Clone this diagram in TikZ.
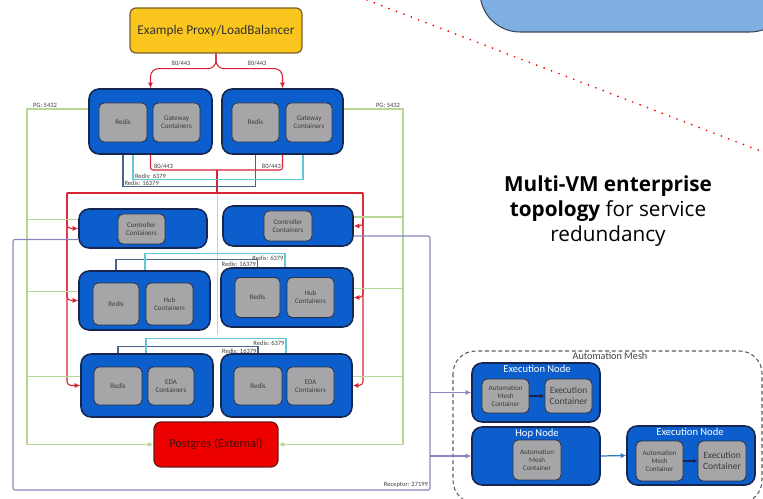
\documentclass[tikz,border=0pt]{standalone}
\usepackage{fontspec}
\setmainfont{Carlito}
\newfontfamily\capfont{Open Sans}
\usetikzlibrary{arrows.meta,calc,positioning}

\definecolor{vmblue}{RGB}{12,94,204}
\definecolor{vmedge}{RGB}{22,38,80}
\definecolor{ctrgray}{RGB}{166,166,168}
\definecolor{ctredge}{RGB}{45,50,70}
\definecolor{ctrtext}{RGB}{60,60,60}
\definecolor{lbyellow}{RGB}{250,198,30}
\definecolor{lbedge}{RGB}{120,95,40}
\definecolor{pgred}{RGB}{236,0,0}
\definecolor{pgedge}{RGB}{110,20,20}
\definecolor{pgtext}{RGB}{80,10,10}
\definecolor{httpred}{RGB}{214,36,52}
\definecolor{pggreen}{RGB}{184,214,150}
\definecolor{rediscyan}{RGB}{96,200,212}
\definecolor{redisdark}{RGB}{70,100,140}
\definecolor{rcptpurple}{RGB}{140,132,190}
\definecolor{meshgray}{RGB}{90,90,100}
\definecolor{blobblue}{RGB}{126,174,226}
\definecolor{blobedge}{RGB}{60,70,90}
\definecolor{hopblue}{RGB}{50,120,190}

\tikzset{
  vm/.style={draw=vmedge, line width=0.9pt, fill=vmblue, rounded corners=0.2cm, inner sep=0pt},
  ctr/.style={draw=ctredge, line width=0.5pt, fill=ctrgray, rounded corners=0.1cm, inner sep=0pt,
    align=center, text=ctrtext, font=\fontsize{4}{4.6}\selectfont},
  ctrbig/.style={ctr, font=\fontsize{5.4}{6.4}\selectfont},
  vmtitle/.style={text=white, font=\fontsize{6}{7}\selectfont, inner sep=0pt},
  portlbl/.style={font=\fontsize{3.7}{4.2}\selectfont, text=black!75, inner sep=0.4pt},
  httpln/.style={draw=httpred, line width=0.6pt},
  httparr/.style={httpln, -{Latex[length=3.2pt,width=3pt]}},
  pgln/.style={draw=pggreen, line width=0.6pt},
  pgarr/.style={pgln, -{Latex[length=3.2pt,width=3pt]}},
  cyanln/.style={draw=rediscyan, line width=0.6pt},
  darkln/.style={draw=redisdark, line width=0.6pt},
  rcptln/.style={draw=rcptpurple, line width=0.6pt},
  rcptarr/.style={rcptln, -{Latex[length=3.2pt,width=3pt]}},
  meshln/.style={draw=vmedge, line width=0.8pt, -{Latex[length=2.6pt,width=2.6pt]}},
}

\begin{document}
\begin{tikzpicture}[x=0.02cm, y=-0.02cm]

  \useasboundingbox (0,0) rectangle (763,499);
  \clip (0,0) rectangle (763,499);

  % Blob at the top right and dotted pointer
  \draw[fill=blobblue, draw=blobedge, line width=0.6pt, rounded corners=0.8cm] (480,-60) rectangle (790,32);
  \draw[red, line width=1.1pt, line cap=round, dash pattern=on 0pt off 4.5pt] (367,0) -- (763,152);

  % Load balancer
  \node[draw=lbedge, line width=0.7pt, fill=lbyellow, rounded corners=0.12cm, minimum width=3.44cm,
    minimum height=0.9cm, font=\fontsize{7.6}{9}\selectfont, text=black!80] (lb) at (216,30.5)
    {Example Proxy/LoadBalancer};

  % Gateway VMs
  \node[vm, minimum width=2.46cm, minimum height=1.3cm] (gw1) at (150.5,121.5) {};
  \node[vm, minimum width=2.42cm, minimum height=1.3cm] (gw2) at (282.5,121.5) {};
  \node[ctr, minimum width=0.96cm, minimum height=0.78cm] (g1r) at (123,122.5) {Redis};
  \node[ctr, minimum width=0.94cm, minimum height=0.78cm] (g1g) at (176.5,122.5) {Gateway\\Containers};
  \node[ctr, minimum width=0.94cm, minimum height=0.78cm] (g2r) at (255.5,122.5) {Redis};
  \node[ctr, minimum width=0.92cm, minimum height=0.78cm] (g2g) at (309,122.5) {Gateway\\Containers};

  % Controller VMs
  \node[vm, minimum width=2.56cm, minimum height=0.78cm] (ctl1) at (143,228.5) {};
  \node[vm, minimum width=2.6cm, minimum height=0.8cm] (ctl2) at (288,226) {};
  \node[ctr, minimum width=0.94cm, minimum height=0.6cm] (c1c) at (141.5,229) {Controller\\Containers};
  \node[ctr, minimum width=0.96cm, minimum height=0.6cm] (c2c) at (288,226) {Controller\\Containers};

  % Hub VMs
  \node[vm, minimum width=2.62cm, minimum height=1.18cm] (hub1) at (144.5,300.5) {};
  \node[vm, minimum width=2.64cm, minimum height=1.18cm] (hub2) at (287,297.5) {};
  \node[ctr, minimum width=0.92cm, minimum height=0.84cm] (h1r) at (116,304) {Redis};
  \node[ctr, minimum width=0.94cm, minimum height=0.84cm] (h1h) at (169.5,304) {Hub\\Containers};
  \node[ctr, minimum width=0.9cm, minimum height=0.8cm] (h2r) at (257.5,297.5) {Redis};
  \node[ctr, minimum width=0.94cm, minimum height=0.8cm] (h2h) at (310.5,297.5) {Hub\\Containers};

  % EDA VMs
  \node[vm, minimum width=2.64cm, minimum height=1.26cm] (eda1) at (147,385.5) {};
  \node[vm, minimum width=2.62cm, minimum height=1.26cm] (eda2) at (286.5,385.5) {};
  \node[ctr, minimum width=0.96cm, minimum height=0.76cm] (e1r) at (118,386) {Redis};
  \node[ctr, minimum width=0.92cm, minimum height=0.76cm] (e1e) at (171,386) {EDA\\Containers};
  \node[ctr, minimum width=0.96cm, minimum height=0.76cm] (e2r) at (258,386) {Redis};
  \node[ctr, minimum width=0.94cm, minimum height=0.76cm] (e2e) at (310.5,386) {EDA\\Containers};

  % Database
  \node[draw=pgedge, line width=0.7pt, fill=pgred, rounded corners=0.14cm, minimum width=2.48cm,
    minimum height=0.9cm, font=\fontsize{7}{8}\selectfont, text=pgtext] (pg) at (216,444.5)
    {Postgres (External)};

  % Automation mesh
  \draw[draw=meshgray, line width=0.6pt, dash pattern=on 2.2pt off 1.6pt, rounded corners=0.45cm]
    (453,351) rectangle (762,503);
  \node[font=\fontsize{5.8}{7}\selectfont, text=black!75] (meshlbl) at (610,356) {Automation Mesh};

  \node[vm, minimum width=2.56cm, minimum height=1.18cm] (exe1) at (536,392.5) {};
  \node[vmtitle] (exe1t) at (537,369) {Execution Node};
  \node[ctr, minimum width=0.94cm, minimum height=0.68cm] (x1am) at (505.5,396) {Automation\\Mesh\\Container};
  \node[ctrbig, minimum width=0.94cm, minimum height=0.68cm] (x1ec) at (568.5,396) {Execution\\Container};

  \node[vm, minimum width=2.56cm, minimum height=1.16cm] (hop) at (536,456) {};
  \node[vmtitle] (hopt) at (537,434) {Hop Node};
  \node[ctr, minimum width=0.96cm, minimum height=0.8cm] (hpam) at (537,460) {Automation\\Mesh\\Container};

  \node[vm, minimum width=2.56cm, minimum height=1.18cm] (exe2) at (691,455.5) {};
  \node[vmtitle] (exe2t) at (690,432) {Execution Node};
  \node[ctr, minimum width=0.94cm, minimum height=0.8cm] (x2am) at (659.5,461) {Automation\\Mesh\\Container};
  \node[ctrbig, minimum width=0.96cm, minimum height=0.8cm] (x2ec) at (722,461) {Execution\\Container};

  \draw[meshln] (x1am) -- (x1ec);
  \draw[meshln] (x2am) -- (x2ec);
  \draw[draw=hopblue, line width=0.7pt, -{Latex[length=3.2pt,width=3pt]}] (hop.east) -- (exe2.west);

  % HTTP(S) from the load balancer
  \draw[httparr, rounded corners=0.16cm] (lb.south) -- ++(0,15) -| (gw1.north);
  \draw[httparr, rounded corners=0.16cm] (lb.south) -- ++(0,15) -| (gw2.north);
  \node[portlbl] (http1) at (181,63) {80/443};
  \node[portlbl] (http2) at (257,63) {80/443};

  % HTTP(S) from the gateways
  \coordinate (rjoin) at (217,170);
  \coordinate (rbus) at (217,193);
  \coordinate (rleft) at (67,193);
  \coordinate (rright) at (363,193);
  \draw[draw=httpred!30, line width=0.4pt] (rbus) -- (217,335);
  \draw[httpln, rounded corners=0.05cm] (gw1.south) |- (rjoin) -| (gw2.south);
  \draw[httpln] (rjoin) -- (rbus);
  \draw[httpln] (rleft) -- (rright);
  \foreach \b in {ctl1,hub1,eda1}
    \draw[httparr, rounded corners=0.08cm] (rleft) |- (\b.west);
  \foreach \b in {ctl2,hub2,eda2}
    \draw[httparr, rounded corners=0.08cm] (rright) |- (\b.east);
  \node[portlbl, anchor=south west] (http3) at (153,169.5) {80/443};
  \node[portlbl, anchor=south east] (http4) at (282,169.5) {80/443};

  % Postgres
  \coordinate (pgl) at (27,444.5);
  \coordinate (pgr) at (403,444.5);
  \foreach \b in {ctl1,hub1,eda1}
    \draw[pgln] ([yshift=0.18cm]\b.west) -| (pgl);
  \foreach \b in {ctl2,hub2,eda2}
    \draw[pgln] ([yshift=0.18cm]\b.east) -| (pgr);
  \draw[pgarr] ([yshift=0.25cm]gw1.west) -| (pgl) -- (pg.west);
  \draw[pgarr] ([yshift=0.25cm]gw2.east) -| (pgr) -- (pg.east);
  \node[portlbl, anchor=south west] (pg1) at (32,108.5) {PG: 5432};
  \node[portlbl, anchor=south east] (pg2) at (401,108.5) {PG: 5432};

  % Redis between gateways
  \draw[darkln] (g1r.south |- gw1.south) -- ++(0,32) -| (g2r.south |- gw2.south);
  \draw[cyanln] ($(gw1.south)+(-17.5,0)$) -- ++(0,25) -| ($(gw2.south)+(20.5,0)$);
  \node[portlbl, anchor=south west] (rd1) at (134,179.5) {Redis: 6379};
  \node[portlbl, anchor=south west] (rd2) at (123.5,186.5) {Redis: 16379};

  % Redis between hubs
  \draw[darkln] (h1r.north |- hub1.north) -- ++(0,-11) -| (h2r.north |- hub2.north);
  \draw[cyanln] ($(hub1.north)+(0.5,0)$) -- ++(0,-17) -| ($(hub2.north)+(-2,0)$);
  \node[portlbl, anchor=north east] (rd3) at (284.5,254.5) {Redis: 6379};
  \node[portlbl, anchor=north east] (rd4) at (257,260.5) {Redis: 16379};

  % Redis between EDA
  \draw[darkln] (e1r.north |- eda1.north) -- ++(0,-7) -| (e2r.north |- eda2.north);
  \draw[cyanln] ($(eda1.north)+(-1,0)$) -- ++(0,-15) -| ($(eda2.north)+(-0.5,0)$);
  \node[portlbl, anchor=north east] (rd5) at (285.5,339.5) {Redis: 6379};
  \node[portlbl, anchor=north east] (rd6) at (257.5,347.5) {Redis: 16379};

  % Receptor
  \coordinate (rcbl) at (13,490);
  \coordinate (rcbr) at (430,490);
  \draw[rcptln, rounded corners=0.04cm] ([yshift=-0.22cm]ctl1.west) -| (rcbl) -- (rcbr) |- ([yshift=-0.2cm]ctl2.east);
  \draw[rcptarr] (rcbr |- exe1.west) -- (exe1.west);
  \draw[rcptarr] (rcbr |- hop.west) -- (hop.west);
  \node[portlbl, anchor=south east] (rcpt) at (429,489) {Receptor: 27199};

  % Caption
  \node[align=center, font=\fontsize{11.8}{14.2}\selectfont\capfont] (topo) at (608,211)
    {\textbf{Multi-VM enterprise}\\ \textbf{topology} for service\\ redundancy};

\end{tikzpicture}
\end{document}
